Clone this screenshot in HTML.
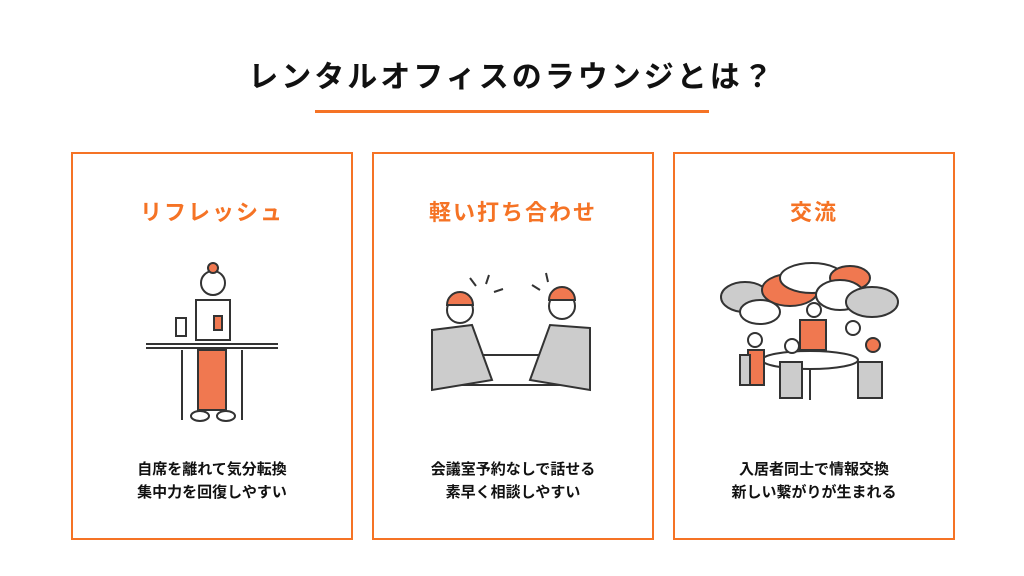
<!DOCTYPE html>
<html><head><meta charset="utf-8"><style>
body{margin:0;width:1024px;height:576px;background:#fff;position:relative;overflow:hidden;font-family:"Liberation Sans","Noto Sans CJK JP",sans-serif}
.t{position:absolute;left:0;width:1024px;top:52px;text-align:center;font-size:30px;font-weight:bold;color:#111;letter-spacing:3px}
.ul{position:absolute;left:315px;top:110px;width:394px;height:3px;background:#f57325}
.box{position:absolute;top:152px;width:278px;height:384px;border:2px solid #f57325}
.h{position:absolute;top:41px;width:100%;text-align:center;font-size:22px;font-weight:bold;color:#f57325;letter-spacing:2px}
.p{position:absolute;top:304px;width:100%;text-align:center;font-size:15px;line-height:23px;color:#111;font-weight:bold}
svg{position:absolute;left:0;top:0}
</style></head><body>
<div class="t">レンタルオフィスのラウンジとは？</div>
<div class="ul"></div>
<div class="box" style="left:71px"><div class="h">リフレッシュ</div><div class="p">自席を離れて気分転換<br>集中力を回復しやすい</div></div>
<div class="box" style="left:372px"><div class="h">軽い打ち合わせ</div><div class="p">会議室予約なしで話せる<br>素早く相談しやすい</div></div>
<div class="box" style="left:673px"><div class="h">交流</div><div class="p">入居者同士で情報交換<br>新しい繋がりが生まれる</div></div>
<svg width="1024" height="576" fill="none" stroke="#333" stroke-width="2">
<circle cx="213" cy="283" r="12" fill="#fff"/><circle cx="213" cy="268" r="5" fill="#f07850"/>
<path d="M196 300 h34 v40 h-34z" fill="#fff"/>
<line x1="146" y1="344" x2="278" y2="344"/><line x1="146" y1="348" x2="278" y2="348"/>
<path d="M198 350 h28 v60 h-28z" fill="#f07850"/>
<line x1="182" y1="350" x2="182" y2="420"/><line x1="242" y1="350" x2="242" y2="420"/>
<rect x="176" y="318" width="10" height="18" fill="#fff"/><rect x="214" y="316" width="8" height="14" fill="#f07850"/>
<ellipse cx="200" cy="416" rx="9" ry="5"/><ellipse cx="226" cy="416" rx="9" ry="5"/>
<path d="M470 355 L550 355 L565 385 L460 385Z" fill="#fff"/>
<circle cx="460" cy="310" r="13" fill="#fff"/><path d="M447 305 a13 13 0 0 1 26 0z" fill="#f07850"/>
<path d="M432 330 l40 -5 l20 55 l-60 10z" fill="#ccc"/>
<circle cx="562" cy="306" r="13" fill="#fff"/><path d="M549 300 a13 13 0 0 1 26 0z" fill="#f07850"/>
<path d="M590 328 l-40 -3 l-20 55 l60 10z" fill="#ccc"/>
<path d="M476 286 l-6 -8 M486 284 l3 -9 M494 292 l9 -3 M540 290 l-8 -5 M548 282 l-2 -9"/>
<ellipse cx="745" cy="297" rx="24" ry="15" fill="#ccc"/><ellipse cx="790" cy="290" rx="28" ry="16" fill="#f07850"/>
<ellipse cx="812" cy="278" rx="32" ry="15" fill="#fff"/><ellipse cx="850" cy="278" rx="20" ry="12" fill="#f07850"/>
<ellipse cx="840" cy="295" rx="24" ry="15" fill="#fff"/><ellipse cx="872" cy="302" rx="26" ry="15" fill="#ccc"/>
<ellipse cx="760" cy="312" rx="20" ry="12" fill="#fff"/>
<ellipse cx="810" cy="360" rx="48" ry="9" fill="#fff"/><line x1="810" y1="369" x2="810" y2="400"/>
<path d="M800 320 h26 v30 h-26z" fill="#f07850"/><circle cx="814" cy="310" r="7" fill="#fff"/>
<circle cx="755" cy="340" r="7" fill="#fff"/><path d="M748 350 h16 v35 h-16z" fill="#f07850"/>
<circle cx="792" cy="346" r="7" fill="#fff"/><rect x="780" y="362" width="22" height="36" fill="#ccc"/>
<circle cx="853" cy="328" r="7" fill="#fff"/><circle cx="873" cy="345" r="7" fill="#f07850"/>
<rect x="858" y="362" width="24" height="36" fill="#ccc"/><rect x="740" y="355" width="10" height="30" fill="#ccc"/>
</svg>
</body></html>
